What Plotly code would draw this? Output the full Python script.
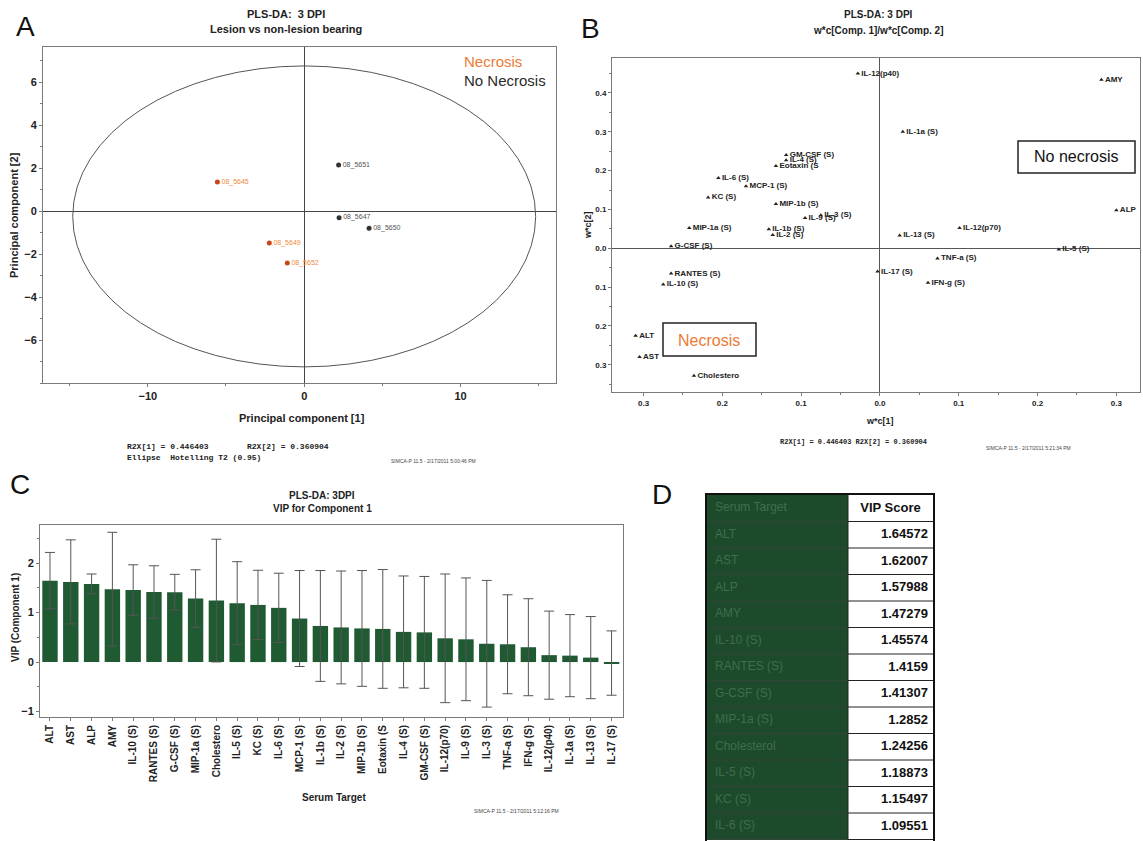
import plotly.graph_objects as go

W, H = 1143, 841

# ---------------- Panel A: scores plot ----------------
a_ids = ["08_5645", "08_5649", "08_5652", "08_5651", "08_5647", "08_5650"]
a_group = ["Necrosis", "Necrosis", "Necrosis", "No Necrosis", "No Necrosis", "No Necrosis"]
a_pc1 = [-5.55, -2.23, -1.08, 2.2, 2.23, 4.15]
a_pc2 = [1.35, -1.49, -2.42, 2.14, -0.31, -0.8]
ellipse_rx = 14.8
ellipse_ry = 7.0
ellipse_cy = -0.25
a_xticks = [-10, 0, 10]
a_yticks = [-6, -4, -2, 0, 2, 4, 6]

# ---------------- Panel B: loadings plot ----------------
b_names = ["IL-12(p40)", "AMY", "IL-1a (S)", "GM-CSF (S)", "IL-4 (S)", "Eotaxin (S",
           "IL-6 (S)", "MCP-1 (S)", "KC (S)", "MIP-1b (S)", "IL-9 (S)", "IL-3 (S)",
           "MIP-1a (S)", "IL-1b (S)", "IL-2 (S)", "G-CSF (S)", "RANTES (S)", "IL-10 (S)",
           "ALT", "AST", "Cholestero", "IL-13 (S)", "IL-12(p70)", "ALP", "IL-5 (S)",
           "TNF-a (S)", "IL-17 (S)", "IFN-g (S)"]
b_wc1 = [-0.028, 0.281, 0.029, -0.119, -0.119, -0.132,
         -0.205, -0.170, -0.218, -0.132, -0.095, -0.075,
         -0.242, -0.141, -0.136, -0.265, -0.265, -0.275,
         -0.310, -0.305, -0.236, 0.025, 0.101, 0.300, 0.227,
         0.073, -0.003, 0.061]
b_wc2 = [0.450, 0.434, 0.300, 0.240, 0.227, 0.212,
         0.181, 0.160, 0.131, 0.114, 0.078, 0.085,
         0.052, 0.049, 0.034, 0.005, -0.065, -0.093,
         -0.225, -0.280, -0.328, 0.033, 0.052, 0.098, -0.003,
         -0.026, -0.060, -0.089]
b_xtickvals = [-0.3, -0.2, -0.1, 0.0, 0.1, 0.2, 0.3]
b_xticktext = ["0.3", "0.2", "0.1", "0.0", "0.1", "0.2", "0.3"]
b_ytickvals = [-0.3, -0.2, -0.1, 0.0, 0.1, 0.2, 0.3, 0.4]
b_yticktext = ["0.3", "0.2", "0.1", "0.0", "0.1", "0.2", "0.3", "0.4"]

# ---------------- Panel C: VIP bar chart ----------------
c_targets = ["ALT", "AST", "ALP", "AMY", "IL-10 (S)", "RANTES (S)", "G-CSF (S)",
             "MIP-1a (S)", "Cholestero", "IL-5 (S)", "KC (S)", "IL-6 (S)", "MCP-1 (S)",
             "IL-1b (S)", "IL-2 (S)", "MIP-1b (S)", "Eotaxin (S", "IL-4 (S)", "GM-CSF (S)",
             "IL-12(p70)", "IL-9 (S)", "IL-3 (S)", "TNF-a (S)", "IFN-g (S)", "IL-12(p40)",
             "IL-1a (S)", "IL-13 (S)", "IL-17 (S)"]
c_vip = [1.64572, 1.62007, 1.57988, 1.47279, 1.45574, 1.4159, 1.41307,
         1.2852, 1.24256, 1.18873, 1.15497, 1.09551, 0.88,
         0.73, 0.70, 0.68, 0.67, 0.61, 0.60,
         0.48, 0.46, 0.37, 0.36, 0.30, 0.14,
         0.13, 0.09, -0.02]
c_err = [0.57, 0.85, 0.20, 1.15, 0.51, 0.53, 0.36,
         0.58, 1.24, 0.84, 0.70, 0.70, 0.97,
         1.12, 1.14, 1.17, 1.20, 1.13, 1.13,
         1.30, 1.24, 1.28, 1.00, 0.98, 0.89,
         0.83, 0.83, 0.65]

# ---------------- Panel D: table ----------------
d_header = ["Serum Target", "VIP Score"]
d_targets = ["ALT", "AST", "ALP", "AMY", "IL-10 (S)", "RANTES (S)", "G-CSF (S)",
             "MIP-1a (S)", "Cholesterol", "IL-5 (S)", "KC (S)", "IL-6 (S)"]
d_scores = ["1.64572", "1.62007", "1.57988", "1.47279", "1.45574", "1.4159",
            "1.41307", "1.2852", "1.24256", "1.18873", "1.15497", "1.09551"]
d_colwidths = [141, 85]

FONT = "Liberation Sans"
MONO = "Liberation Mono"
ORANGE_TXT = "#ef8a3a"
ORANGE_MK = "#c8461c"
GREEN = "#1f5a33"
TABLE_GREEN = "#1d4a2a"
TABLE_TXT = "#3f6e4b"


def px(x):
    return x / W


def py(y):
    return 1 - y / H


fig = go.Figure()

# ---- A traces
nec = [i for i, g in enumerate(a_group) if g == "Necrosis"]
non = [i for i, g in enumerate(a_group) if g != "Necrosis"]
fig.add_trace(go.Scatter(
    x=[a_pc1[i] for i in nec], y=[a_pc2[i] for i in nec], text=[a_ids[i] for i in nec],
    mode="markers+text", textposition="middle right",
    marker=dict(color=ORANGE_MK, size=5),
    textfont=dict(family=FONT, size=7, color=ORANGE_TXT),
    xaxis="x", yaxis="y", showlegend=False, cliponaxis=False))
fig.add_trace(go.Scatter(
    x=[a_pc1[i] for i in non], y=[a_pc2[i] for i in non], text=[a_ids[i] for i in non],
    mode="markers+text", textposition="middle right",
    marker=dict(color="#333333", size=5),
    textfont=dict(family=FONT, size=7, color="#555555"),
    xaxis="x", yaxis="y", showlegend=False, cliponaxis=False))

# ---- B trace
fig.add_trace(go.Scatter(
    x=b_wc1, y=b_wc2, text=b_names, mode="markers+text", textposition="middle right",
    marker=dict(symbol="triangle-up", color="#222222", size=4),
    textfont=dict(family=FONT, size=8, color="#222222", weight="bold"),
    xaxis="x2", yaxis="y2", showlegend=False, cliponaxis=False))

# ---- C trace
fig.add_trace(go.Bar(
    x=c_targets, y=c_vip, marker=dict(color=GREEN, line=dict(width=0)),
    width=0.74,
    error_y=dict(type="data", array=c_err, visible=True, color="#555555",
                 thickness=1, width=5),
    xaxis="x3", yaxis="y3", showlegend=False))

# ---- D table (drawn on its own axes: column edges on x, row index on y)
n_rows = len(d_targets) + 1
col_edges = [0, d_colwidths[0], d_colwidths[0] + d_colwidths[1]]
row_edges = list(range(n_rows + 1))
fig.add_trace(go.Heatmap(
    x=col_edges, y=row_edges, z=[[0, 1] for _ in range(n_rows)],
    zmin=0, zmax=1, colorscale=[[0, TABLE_GREEN], [1, "white"]],
    showscale=False, hoverinfo="skip", xaxis="x4", yaxis="y4"))
# row separators
gx_dark, gy_dark, gx_white, gy_white = [], [], [], []
for r in row_edges[1:]:
    gx_dark += [col_edges[0], col_edges[1], None]
    gy_dark += [r, r, None]
    gx_white += [col_edges[1], col_edges[2], None]
    gy_white += [r, r, None]
fig.add_trace(go.Scatter(x=gx_dark, y=gy_dark, mode="lines",
                         line=dict(color="#334536", width=1),
                         hoverinfo="skip", showlegend=False, xaxis="x4", yaxis="y4"))
fig.add_trace(go.Scatter(x=gx_white + [col_edges[1], col_edges[1]],
                         y=gy_white + [0, n_rows], mode="lines",
                         line=dict(color="#222222", width=1),
                         hoverinfo="skip", showlegend=False, xaxis="x4", yaxis="y4"))
row_mid = [r + 0.5 for r in range(n_rows)]
fig.add_trace(go.Scatter(
    x=[8] * n_rows, y=row_mid, text=[d_header[0]] + d_targets,
    mode="text", textposition="middle right",
    textfont=dict(family=FONT, size=12, color=TABLE_TXT),
    hoverinfo="skip", showlegend=False, xaxis="x4", yaxis="y4"))
fig.add_trace(go.Scatter(
    x=[col_edges[2] - 5] * (n_rows - 1), y=row_mid[1:], text=d_scores,
    mode="text", textposition="middle left",
    textfont=dict(family=FONT, size=13, color="#111111", weight="bold"),
    hoverinfo="skip", showlegend=False, xaxis="x4", yaxis="y4"))
fig.add_trace(go.Scatter(
    x=[(col_edges[1] + col_edges[2]) / 2], y=[row_mid[0]], text=[d_header[1]],
    mode="text", textposition="middle center",
    textfont=dict(family=FONT, size=13, color="#111111", weight="bold"),
    hoverinfo="skip", showlegend=False, xaxis="x4", yaxis="y4"))

axis_common = dict(showline=True, mirror=True, linecolor="#7a7a7a", linewidth=1,
                   showgrid=False, ticks="outside", ticklen=3, tickcolor="#7a7a7a")

row_px = 26.5
table_top = 495
fig.update_layout(
    width=W, height=H, margin=dict(l=0, r=0, t=0, b=0),
    paper_bgcolor="white", plot_bgcolor="white",
    font=dict(family=FONT, color="#222222"),
    xaxis=dict(domain=[px(43), px(556)], anchor="y", range=[-16.7, 16.1],
               tickvals=a_xticks, zeroline=True, zerolinecolor="#444444", zerolinewidth=1,
               tickfont=dict(size=11, weight="bold"),
               minor=dict(dtick=5, ticks="outside", ticklen=2, tickcolor="#7a7a7a"),
               **axis_common),
    yaxis=dict(domain=[py(383), py(47)], anchor="x", range=[-8.0, 7.63],
               tickvals=a_yticks, zeroline=True, zerolinecolor="#444444", zerolinewidth=1,
               tickfont=dict(size=11, weight="bold"),
               minor=dict(dtick=1, ticks="outside", ticklen=2, tickcolor="#7a7a7a"),
               **axis_common),
    xaxis2=dict(domain=[px(612), px(1140)], anchor="y2", range=[-0.34, 0.33],
                tickvals=b_xtickvals, ticktext=b_xticktext,
                zeroline=True, zerolinecolor="#555555", zerolinewidth=1,
                tickfont=dict(size=8, weight="bold"),
                minor=dict(dtick=0.05, ticks="outside", ticklen=2, tickcolor="#7a7a7a"),
                **axis_common),
    yaxis2=dict(domain=[py(392), py(58)], anchor="x2", range=[-0.37, 0.49],
                tickvals=b_ytickvals, ticktext=b_yticktext,
                zeroline=True, zerolinecolor="#555555", zerolinewidth=1,
                tickfont=dict(size=8, weight="bold"),
                minor=dict(dtick=0.05, ticks="outside", ticklen=2, tickcolor="#7a7a7a"),
                **axis_common),
    xaxis3=dict(domain=[px(40), px(623)], anchor="y3", range=[-0.48, 27.55],
                tickangle=-90, tickfont=dict(size=10, weight="bold"),
                **axis_common),
    yaxis3=dict(domain=[py(717), py(525)], anchor="x3", range=[-1.11, 2.77],
                tickvals=[-1, 0, 1, 2], zeroline=False,
                tickfont=dict(size=11, weight="bold"),
                minor=dict(dtick=0.5, ticks="outside", ticklen=2, tickcolor="#7a7a7a"),
                **axis_common),
    xaxis4=dict(domain=[px(707), px(707 + col_edges[2])], anchor="y4",
                range=[0, col_edges[2]], showline=True, mirror=True, linecolor="#111111",
                linewidth=1.5, showgrid=False, zeroline=False, showticklabels=False,
                ticks="", fixedrange=True),
    yaxis4=dict(domain=[0, py(table_top)], anchor="x4",
                range=[(H - table_top) / row_px, 0], showline=True, mirror=True,
                linecolor="#111111", linewidth=1.5, showgrid=False, zeroline=False,
                showticklabels=False, ticks="", fixedrange=True),
    bargap=0.26,
)

# Hotelling T2 ellipse (panel A)
fig.add_shape(type="circle", xref="x", yref="y",
              x0=-ellipse_rx, x1=ellipse_rx,
              y0=ellipse_cy - ellipse_ry, y1=ellipse_cy + ellipse_ry,
              line=dict(color="#555555", width=1))

# Boxes in panel B
fig.add_shape(type="rect", xref="paper", yref="paper",
              x0=px(1018), x1=px(1135), y0=py(173), y1=py(141),
              line=dict(color="#222222", width=1.5), fillcolor="white")
fig.add_shape(type="rect", xref="paper", yref="paper",
              x0=px(663), x1=px(756), y0=py(356), y1=py(323),
              line=dict(color="#222222", width=1.5), fillcolor="white")

ann = []


def add_text(x, y, text, size=11, bold=False, color="#222222", family=FONT,
             xanchor="center", angle=0):
    ann.append(dict(x=px(x), y=py(y), xref="paper", yref="paper", text=text,
                    showarrow=False, xanchor=xanchor, yanchor="middle", textangle=angle,
                    font=dict(family=family, size=size, color=color,
                              weight="bold" if bold else "normal")))


# Panel letters
add_text(25, 27, "A", size=28, color="#111111")
add_text(590, 29, "B", size=28, color="#111111")
add_text(20, 485, "C", size=28, color="#111111")
add_text(662, 494, "D", size=28, color="#111111")

# Panel A texts
add_text(286, 14, "PLS-DA:  3 DPI", size=11, bold=True)
add_text(286, 29, "Lesion vs non-lesion bearing", size=11, bold=True)
add_text(462, 62, "Necrosis", size=15, color="#ec7a35", xanchor="left")
add_text(462, 81, "No Necrosis", size=15, color="#2a2a2a", xanchor="left")
add_text(302, 418, "Principal component [1]", size=11, bold=True)
add_text(14, 215, "Principal component [2]", size=11, bold=True, angle=-90)
add_text(125, 446, "R2X[1] = 0.446403        R2X[2] = 0.360904", size=8, bold=True,
         family=MONO, xanchor="left")
add_text(125, 457, "Ellipse  Hotelling T2 (0.95)", size=8, bold=True, family=MONO,
         xanchor="left")
add_text(389, 461, "SIMCA-P 11.5 - 2/17/2011 5:00:46 PM", size=5, color="#444444",
         xanchor="left")

# Panel B texts
add_text(878, 15, "PLS-DA: 3 DPI", size=10, bold=True)
add_text(878, 30, "w*c[Comp. 1]/w*c[Comp. 2]", size=10, bold=True)
add_text(1076, 157, "No necrosis", size=16, color="#111111")
add_text(709, 340, "Necrosis", size=16, color="#ec7a35")
add_text(880, 421, "w*c[1]", size=9, bold=True)
add_text(588, 225, "w*c[2]", size=9, bold=True, angle=-90)
add_text(853, 442, "R2X[1] = 0.446403 R2X[2] = 0.360904", size=7, bold=True,
         family=MONO)
add_text(984, 448, "SIMCA-P 11.5 - 2/17/2011 5:21:34 PM", size=5, color="#444444",
         xanchor="left")

# Panel C texts
add_text(322, 495, "PLS-DA: 3DPI", size=10, bold=True)
add_text(322, 508, "VIP for Component 1", size=10, bold=True)
add_text(15, 618, "VIP (Component 1)", size=10, bold=True, angle=-90)
add_text(334, 797, "Serum Target", size=10, bold=True)
add_text(472, 811, "SIMCA-P 11.5 - 2/17/2011 5:12:16 PM", size=5, color="#444444",
         xanchor="left")

fig.update_layout(annotations=ann)

fig.write_html("out.html")
